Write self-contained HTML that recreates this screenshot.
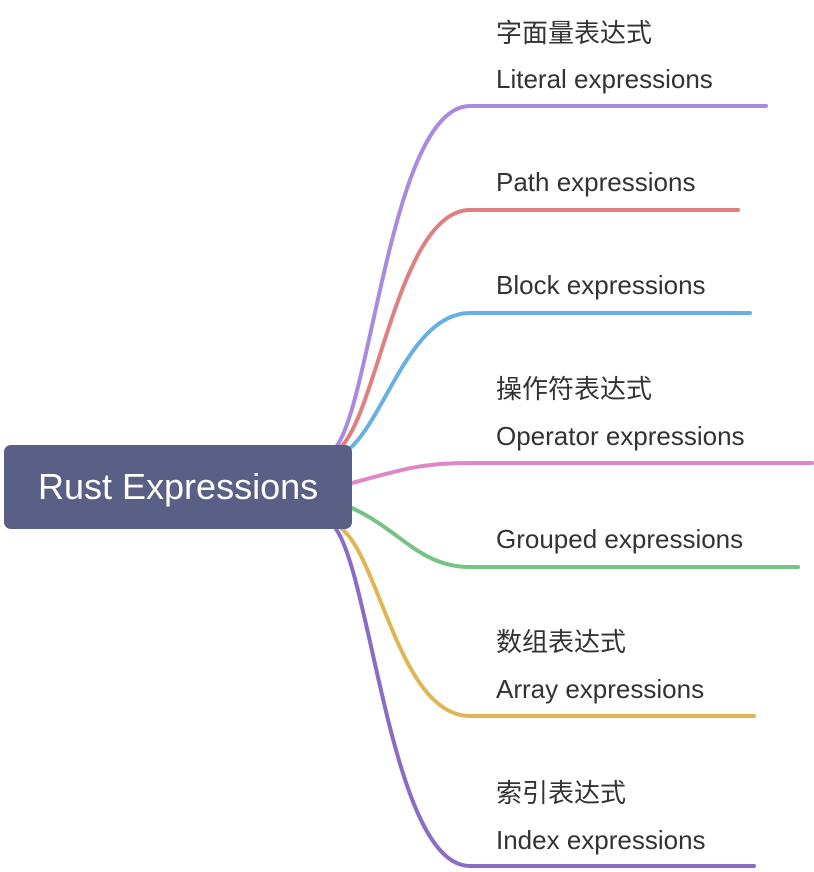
<!DOCTYPE html>
<html><head><meta charset="utf-8"><style>
body{margin:0;width:814px;height:872px;background:#fff;overflow:hidden;position:relative;font-family:"Liberation Sans","Noto Sans CJK SC",sans-serif;}
.t{position:absolute;left:496px;font-size:26px;color:#333;white-space:nowrap;line-height:30px;}
.root{position:absolute;left:4px;top:445px;width:348px;height:84px;background:#5a5f86;border-radius:7px;color:#fff;font-size:36px;line-height:84px;box-sizing:border-box;padding-left:34px;}
</style></head><body>
<svg width="814" height="872" style="position:absolute;left:0;top:0" fill="none" stroke-width="4" stroke-linecap="round">
<path d="M336,447 C372,400 392,106 470,106 L766,106" stroke="#a88ae0"/>
<path d="M341,447 C378,410 400,210 470,210 L738,210" stroke="#e07f80"/>
<path d="M348,450 C385,420 410,313 470,313 L750,313" stroke="#66b0e4"/>
<path d="M352,483 C400,470 420,463 470,463 L812,463" stroke="#de86c8"/>
<path d="M352,508 C400,530 420,567 470,567 L798,567" stroke="#74c384"/>
<path d="M342,529 C380,560 400,716 470,716 L754,716" stroke="#dfb653"/>
<path d="M336,529 C372,580 392,866 470,866 L754,866" stroke="#8a6cc6"/>
</svg>
<div class="root">Rust Expressions</div>
<div class="t" style="top:18px">字面量表达式</div>
<div class="t" style="top:64px">Literal expressions</div>
<div class="t" style="top:167px">Path expressions</div>
<div class="t" style="top:270px">Block expressions</div>
<div class="t" style="top:374px">操作符表达式</div>
<div class="t" style="top:421px">Operator expressions</div>
<div class="t" style="top:524px">Grouped expressions</div>
<div class="t" style="top:627px">数组表达式</div>
<div class="t" style="top:674px">Array expressions</div>
<div class="t" style="top:778px">索引表达式</div>
<div class="t" style="top:825px">Index expressions</div>
</body></html>
